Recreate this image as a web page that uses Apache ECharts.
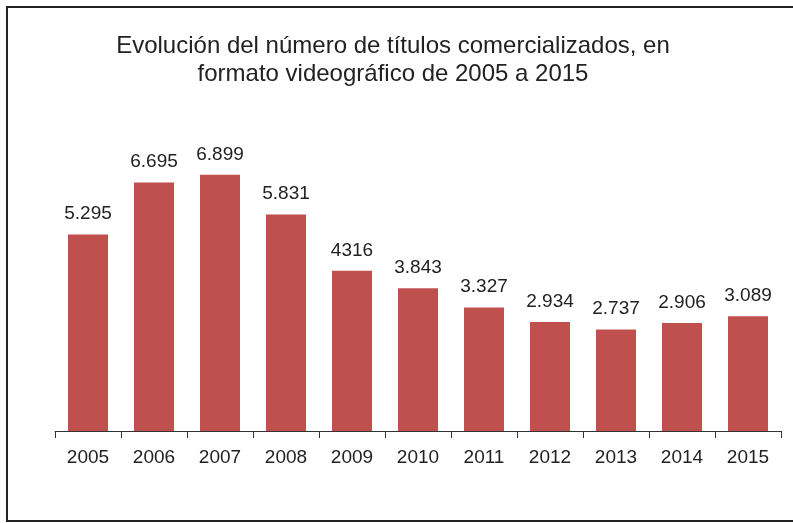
<html>
<head>
<meta charset="utf-8">
<script src="https://cdn.jsdelivr.net/npm/echarts@6/dist/echarts.min.js"></script>
<style>
html, body { margin: 0; padding: 0; background: #fff; }
#main { width: 793px; height: 523px; }
</style>
</head>
<body>
<div id="main"></div>
<script>
var years = ['2005', '2006', '2007', '2008', '2009', '2010', '2011', '2012', '2013', '2014', '2015'];
var titles = [5295, 6695, 6899, 5831, 4316, 3843, 3327, 2934, 2737, 2906, 3089];
// labels as printed on the original (2009 has no thousands separator)
var labelText = ['5.295', '6.695', '6.899', '5.831', '4316', '3.843', '3.327', '2.934', '2.737', '2.906', '3.089'];

var myChart = echarts.init(document.getElementById('main'));

var option = {
    animation: false,
    backgroundColor: '#fff',
    textStyle: { fontFamily: 'Liberation Sans' },
    title: {
        text: 'Evolución del número de títulos comercializados, en\nformato videográfico de 2005 a 2015',
        left: 388,
        top: 27,
        textAlign: 'center',
        textStyle: {
            fontFamily: 'Liberation Sans',
            fontWeight: 'normal',
            fontSize: 24,
            lineHeight: 28,
            color: '#222'
        }
    },
    // frame: open on the right, like the cropped original
    graphic: [{
        type: 'polyline',
        shape: { points: [[800, 7], [7, 7], [7, 521], [800, 521]] },
        style: { fill: 'none', stroke: '#222', lineWidth: 2 },
        silent: true
    }],
    grid: {
        left: 55,
        right: 12,
        top: 134,
        bottom: 92
    },
    xAxis: {
        type: 'category',
        data: years,
        axisLine: { show: true, lineStyle: { color: '#333', width: 1 } },
        axisTick: { show: true, alignWithLabel: false, interval: 0, length: 7, lineStyle: { color: '#333', width: 1 } },
        axisLabel: {
            margin: 17,
            fontSize: 19,
            color: '#222',
            fontFamily: 'Liberation Sans'
        }
    },
    yAxis: {
        type: 'value',
        min: 0,
        max: 8000,
        show: false,
        splitLine: { show: false }
    },
    series: [{
        type: 'bar',
        data: titles,
        barWidth: 40,
        itemStyle: { color: '#C0504D' },
        label: {
            show: true,
            position: 'top',
            distance: 11,
            fontSize: 19,
            color: '#222',
            fontFamily: 'Liberation Sans',
            formatter: function (p) { return labelText[p.dataIndex]; }
        }
    }]
};

myChart.setOption(option);
</script>
</body>
</html>
